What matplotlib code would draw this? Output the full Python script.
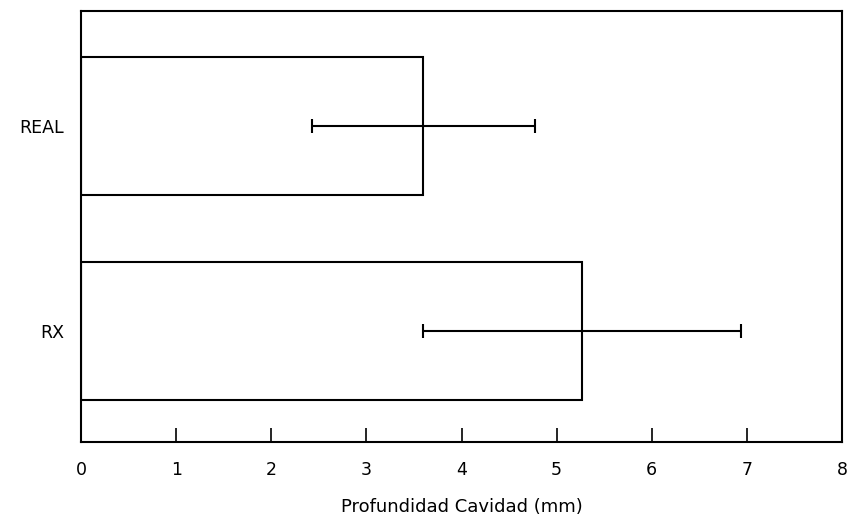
import matplotlib
matplotlib.use('Agg')
import matplotlib.pyplot as plt

# data
groups = ['RX', 'REAL']
means = [5.27, 3.60]
sds = [1.67, 1.17]
positions = [1, 2]

plt.rcParams['font.family'] = ['DejaVu Sans']

fig = plt.figure(figsize=(8.5, 5.21), dpi=100)
ax = fig.add_axes([0.0953, 0.1516, 0.8953, 0.8274])

ax.barh(positions, means, height=0.67, color='white', edgecolor='black', linewidth=1.5)
ax.errorbar(means, positions, xerr=sds, fmt='none', ecolor='black',
            elinewidth=1.5, capsize=5, capthick=1.5)

ax.set_xlim(0, 8)
ax.set_ylim(0.46, 2.56)
ax.set_xticks(range(0, 9))
ax.tick_params(axis='x', direction='in', length=10, width=1.2, pad=14, labelsize=12.5)
ax.set_yticks(positions)
ax.set_yticklabels(groups)
ax.tick_params(axis='y', length=0, pad=12, labelsize=12.5)
ax.set_xlabel('Profundidad Cavidad (mm)', fontsize=13, labelpad=13)

for s in ax.spines.values():
    s.set_linewidth(1.5)

fig.savefig('out.png', dpi=100, facecolor='white')
